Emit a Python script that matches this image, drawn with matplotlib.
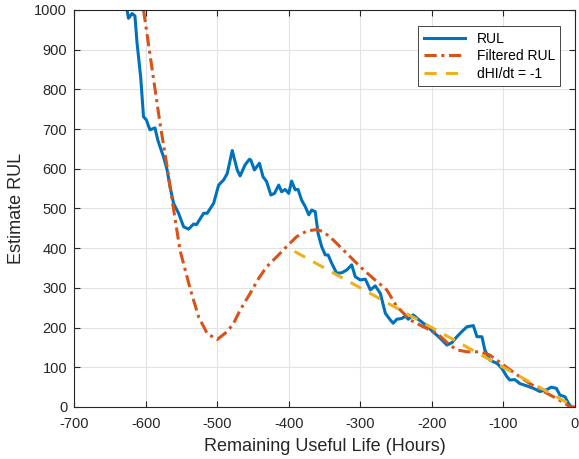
import matplotlib.pyplot as plt

# RUL estimate (blue)
rul_x = [-626, -624, -619, -615, -612, -607, -603, -599, -594, -587, -583, -580, -575, -570,
         -566, -561, -554, -547, -540, -533, -529, -519, -514, -505, -498, -491, -486, -479,
         -472, -468, -461, -455, -453, -448, -441, -436, -431, -425, -420, -414, -410, -405,
         -400, -396, -391, -387, -382, -377, -372, -368, -363, -359, -354, -349, -345, -340,
         -333, -326, -319, -312, -307, -300, -293, -286, -279, -272, -265, -258, -254, -249,
         -242, -237, -233, -226, -219, -212, -205, -199, -193, -186, -179, -172, -165, -158,
         -151, -142, -137, -130, -126, -119, -109, -102, -95, -91, -84, -77, -67, -58, -49,
         -40, -33, -26, -21, -14, -9, -5]
rul_y = [1000, 979, 991, 985, 916, 832, 731, 723, 698, 703, 672, 656, 630, 597,
         555, 513, 488, 454, 448, 461, 459, 488, 488, 513, 559, 572, 588, 646,
         597, 582, 610, 624, 622, 597, 614, 580, 568, 534, 538, 559, 542, 548,
         538, 569, 547, 548, 521, 505, 484, 496, 492, 437, 404, 383, 383, 362,
         337, 338, 345, 358, 328, 320, 322, 295, 305, 286, 236, 219, 211, 221,
         223, 229, 221, 232, 221, 211, 202, 190, 181, 169, 156, 162, 177, 190,
         202, 205, 177, 177, 144, 118, 110, 97, 76, 68, 69, 59, 53, 47, 39,
         43, 50, 47, 30, 26, 9, 0]

# filtered RUL (red)
filt_x = [-603, -580, -570, -563, -552, -538, -526, -514, -500, -486, -477, -468,
          -454, -442, -431, -417, -403, -389, -375, -361, -352, -338, -319, -300, -282,
          -263, -249, -230, -212, -193, -175, -165, -151, -133, -119, -100, -81, -63,
          -44, -26, -7, 0]
filt_y = [1000, 715, 605, 521, 395, 299, 227, 185, 170, 190, 211, 244,
          286, 324, 353, 378, 404, 429, 443, 447, 442, 421, 387, 353, 324,
          295, 253, 219, 202, 186, 156, 144, 139, 139, 131, 106, 81, 59,
          39, 22, 1, 0]

# dHI/dt = -1 line (yellow)
slope_x = [-392, -300, -200, -100, 0]
slope_y = [392, 300, 200, 100, 0]

plt.rcParams['font.family'] = ['Liberation Sans', 'DejaVu Sans']
plt.rcParams['axes.unicode_minus'] = False

fig = plt.figure(figsize=(5.79, 4.59), dpi=100)
ax = fig.add_axes([0.128, 0.1133, 0.865, 0.865])

ax.plot(rul_x, rul_y, color='#0072BD', lw=2.2, label='RUL')
ax.plot(filt_x, filt_y, color='#D95319', lw=2.2, ls=(0, (4, 1.5, 1, 1.5)), label='Filtered RUL')
ax.plot(slope_x, slope_y, color='#EDB120', lw=2.2, ls=(0, (4, 3)), label='dHI/dt = -1')

ax.set_xlim(-700, 0)
ax.set_ylim(0, 1000)
ax.set_xticks(range(-700, 1, 100))
ax.set_yticks(range(0, 1001, 100))
ax.grid(True, color='#e3e3e3', lw=0.8)
ax.set_axisbelow(True)
ax.tick_params(direction='in', top=True, right=True, labelsize=10.5, colors='#262626', length=4)
ax.tick_params(axis='x', pad=7)
ax.tick_params(axis='y', pad=5)
for s in ax.spines.values():
    s.set_color('#262626')
    s.set_linewidth(0.8)

ax.set_xlabel('Remaining Useful Life (Hours)', fontsize=13, color='#262626', labelpad=5)
ax.set_ylabel('Estimate RUL', fontsize=13, color='#262626', labelpad=7)

leg = ax.legend(loc='upper right', bbox_to_anchor=(0.985, 0.977), fontsize=10, fancybox=False,
                framealpha=1, edgecolor='#262626', handlelength=3.0, borderpad=0.4,
                labelspacing=0.25)
leg.get_frame().set_linewidth(0.6)

fig.savefig('out.png', dpi=100)
